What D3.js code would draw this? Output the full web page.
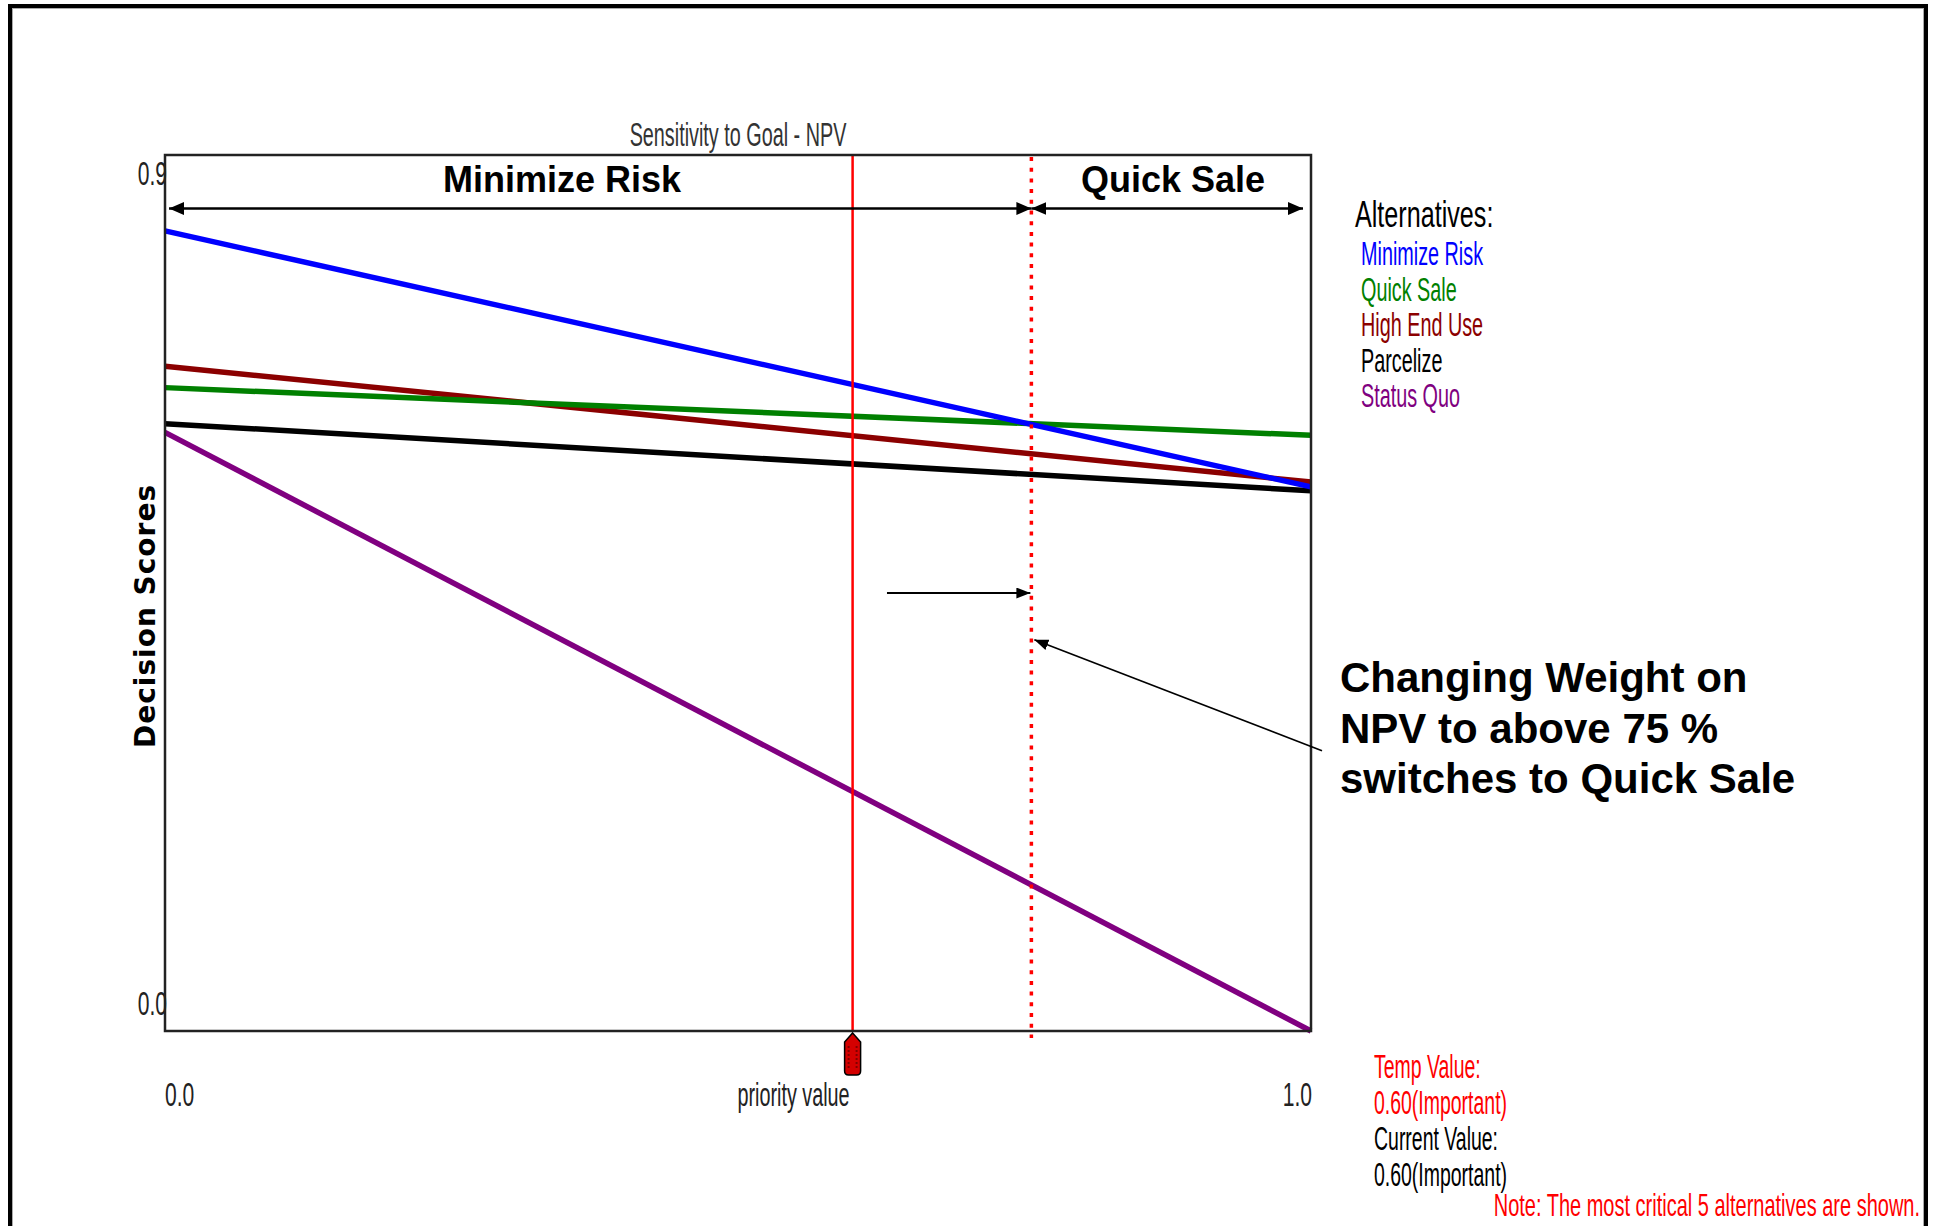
<!DOCTYPE html>
<html>
<head>
<meta charset="utf-8">
<script src="https://d3js.org/d3.v7.min.js"></script>
<style>
  body { margin: 0; background: #fff; }
  svg text { font-family: "Liberation Sans", Arial, sans-serif; }
</style>
</head>
<body>
<div id="chart"></div>
<script>
// values (score at priority 0 and at priority 1)
var alternatives = ["Minimize Risk", "Quick Sale", "High End Use", "Parcelize", "Status Quo"];
var altColors = ["#0000ff", "#008000", "#8b0000", "#000000", "#800080"];
var priorityEnds = [0, 1];
var scoreAtZero = [0.822, 0.661, 0.683, 0.624, 0.615];
var scoreAtOne = [0.559, 0.612, 0.564, 0.555, 0.0];
var yTicks = [0.9, 0.0];
var xTicks = [0.0, 1.0];
var currentPriority = 0.6;
var switchPriority = 0.756;
var regionNames = ["Minimize Risk", "Quick Sale"];
var calloutLines = ["Changing Weight on", "NPV to above 75 %", "switches to Quick Sale"];
var statusLines = ["Temp Value:", "0.60(Important)", "Current Value:", "0.60(Important)"];
var statusColors = ["#ff0000", "#ff0000", "#000000", "#000000"];

var W = 1937, H = 1226;
var svg = d3.select("#chart").append("svg")
    .attr("width", W)
    .attr("height", H);

// scales: the plot frame spans priority 0..1 and score 0..0.9
var x = d3.scaleLinear().domain([0, 1]).range([165, 1311]);
var y = d3.scaleLinear().domain([0, 0.9]).range([1031, 155]);

// slide border
svg.append("rect")
    .attr("x", 10).attr("y", 6)
    .attr("width", 1916).attr("height", 1300)
    .attr("fill", "none").attr("stroke", "#000").attr("stroke-width", 4);
svg.append("rect")
    .attr("x", 12.5).attr("y", 8.5)
    .attr("width", 1911).attr("height", 1300)
    .attr("fill", "none").attr("stroke", "#aaa").attr("stroke-width", 1);

// arrow heads
var defs = svg.append("defs");
defs.append("marker")
    .attr("id", "head")
    .attr("markerUnits", "userSpaceOnUse")
    .attr("markerWidth", 16).attr("markerHeight", 13)
    .attr("refX", 15).attr("refY", 6.5)
    .attr("orient", "auto-start-reverse")
  .append("path")
    .attr("d", "M0,0 L15,6.5 L0,13 Z")
    .attr("fill", "#000");
defs.append("marker")
    .attr("id", "headSmall")
    .attr("markerUnits", "userSpaceOnUse")
    .attr("markerWidth", 15).attr("markerHeight", 11)
    .attr("refX", 14).attr("refY", 5.5)
    .attr("orient", "auto")
  .append("path")
    .attr("d", "M0,0 L14,5.5 L0,11 Z")
    .attr("fill", "#000");

// narrow bitmap-ish font of the original software
function condensed(str, px, py, size, color, anchor, sx) {
  return svg.append("text")
    .attr("transform", "translate(" + px + "," + py + ") scale(" + (sx || 0.62) + ",1)")
    .attr("text-anchor", anchor || "start")
    .style("font-size", size + "px")
    .style("fill", color || "#000")
    .text(str);
}

// title
condensed("Sensitivity to Goal - NPV", (x(0) + x(1)) / 2, 146, 33, "#333", "middle", 0.6);

// y axis label
svg.append("text")
    .attr("transform", "translate(155,616) rotate(-90)")
    .attr("text-anchor", "middle")
    .style("font-family", "'DejaVu Sans', Verdana, sans-serif")
    .style("font-weight", "bold")
    .style("font-size", "28px")
    .style("letter-spacing", "1px")
    .text("Decision Scores");

// y tick labels
condensed(yTicks[0].toFixed(1), x(0) + 2, y(yTicks[0]) + 30, 34, "#222", "end");
condensed(yTicks[1].toFixed(1), x(0) + 2, y(yTicks[1]) - 16, 34, "#222", "end");

// x tick labels
condensed(xTicks[0].toFixed(1), x(xTicks[0]), y(0) + 75, 34, "#222", "start");
condensed(xTicks[1].toFixed(1), x(xTicks[1]) + 1, y(0) + 75, 34, "#222", "end");
condensed("priority value", x(currentPriority) - 3, y(0) + 75, 33, "#222", "end", 0.6);

// lines, status quo drawn first
var line = d3.line()
    .x(function(d) { return x(d[0]); })
    .y(function(d) { return y(d[1]); });
var order = [4, 3, 2, 1, 0];
order.forEach(function(i) {
  svg.append("path")
    .datum([[priorityEnds[0], scoreAtZero[i]], [priorityEnds[1], scoreAtOne[i]]])
    .attr("d", line)
    .attr("fill", "none")
    .attr("stroke", altColors[i])
    .attr("stroke-width", 5.5);
});

// current priority line
svg.append("line")
    .attr("x1", x(currentPriority)).attr("x2", x(currentPriority))
    .attr("y1", y(0.9)).attr("y2", y(0))
    .attr("stroke", "#ff0000").attr("stroke-width", 2.5);

// switch point dotted line
svg.append("line")
    .attr("x1", x(switchPriority)).attr("x2", x(switchPriority))
    .attr("y1", y(0.9) + 2).attr("y2", y(0) + 7)
    .attr("stroke", "#ff0000").attr("stroke-width", 3.5)
    .attr("stroke-dasharray", "4,6.7");

// plot frame
svg.append("rect")
    .attr("x", x(0)).attr("y", y(0.9))
    .attr("width", x(1) - x(0)).attr("height", y(0) - y(0.9))
    .attr("fill", "none").attr("stroke", "#222").attr("stroke-width", 2.5);

// slider thumb under the current priority
var tx = x(currentPriority), ty = y(0);
svg.append("path")
    .attr("d", "M" + tx + "," + (ty + 2) +
               " L" + (tx + 8) + "," + (ty + 11) +
               " L" + (tx + 8) + "," + (ty + 40) +
               " Q" + (tx + 8) + "," + (ty + 44) + " " + (tx + 4) + "," + (ty + 44) +
               " L" + (tx - 4) + "," + (ty + 44) +
               " Q" + (tx - 8) + "," + (ty + 44) + " " + (tx - 8) + "," + (ty + 40) +
               " L" + (tx - 8) + "," + (ty + 11) + " Z")
    .attr("fill", "#d40000").attr("stroke", "#000").attr("stroke-width", 1.5);
d3.range(ty + 16, ty + 40, 4).forEach(function(k) {
  svg.append("line")
    .attr("x1", tx - 5).attr("x2", tx - 3).attr("y1", k).attr("y2", k)
    .attr("stroke", "#600").attr("stroke-width", 1.5);
  svg.append("line")
    .attr("x1", tx + 3).attr("x2", tx + 5).attr("y1", k).attr("y2", k)
    .attr("stroke", "#600").attr("stroke-width", 1.5);
});

// region arrows and names
var arrowLevel = 0.845;
var regions = [[0, switchPriority], [switchPriority, 1]];
regions.forEach(function(r, i) {
  svg.append("line")
    .attr("x1", x(r[0]) + (i == 0 ? 4 : 0)).attr("x2", x(r[1]) - (i == 1 ? 8 : 0))
    .attr("y1", y(arrowLevel)).attr("y2", y(arrowLevel))
    .attr("stroke", "#000").attr("stroke-width", 2.5)
    .attr("marker-start", "url(#head)")
    .attr("marker-end", "url(#head)");
});
var nameX = [562, 1173];
regionNames.forEach(function(n, i) {
  svg.append("text")
    .attr("x", nameX[i]).attr("y", 192)
    .attr("text-anchor", "middle")
    .style("font-weight", "bold")
    .style("font-size", "36px")
    .text(n);
});

// shift arrow toward switch point
svg.append("line")
    .attr("x1", x(0.63)).attr("x2", x(switchPriority) - 1)
    .attr("y1", y(0.45)).attr("y2", y(0.45))
    .attr("stroke", "#000").attr("stroke-width", 2.2)
    .attr("marker-end", "url(#headSmall)");

// pointer from callout
svg.append("line")
    .attr("x1", x(1.0096)).attr("y1", y(0.288))
    .attr("x2", x(switchPriority) + 3).attr("y2", y(0.402))
    .attr("stroke", "#000").attr("stroke-width", 1.6)
    .attr("marker-end", "url(#headSmall)");

// callout text
calloutLines.forEach(function(t, i) {
  svg.append("text")
    .attr("x", 1340).attr("y", 692 + i * 50.5)
    .style("font-weight", "bold")
    .style("font-size", "42px")
    .text(t);
});

// legend
condensed("Alternatives:", 1355, 227, 37, "#000", "start", 0.68);
alternatives.forEach(function(a, i) {
  condensed(a, 1361, 265 + i * 35.5, 33, altColors[i], "start", 0.6);
});

// current / temp values and note
statusLines.forEach(function(t, i) {
  condensed(t, 1374, 1078 + i * 36, 33, statusColors[i], "start", 0.59);
});
condensed("Note: The most critical 5 alternatives are shown.", 1920, 1216, 31, "#ff0000", "end", 0.645);
</script>
</body>
</html>
